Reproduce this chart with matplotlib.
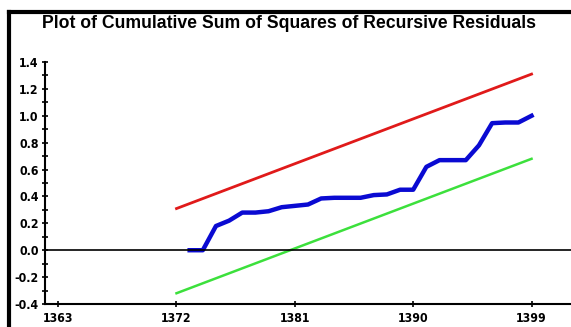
import matplotlib
matplotlib.use("Agg")
import matplotlib.pyplot as plt
from matplotlib.lines import Line2D
from matplotlib.ticker import MultipleLocator

# cumulative sum of squares of recursive residuals, by year
years = [1373, 1374, 1375, 1376, 1377, 1378, 1379, 1380, 1381, 1382,
         1383, 1384, 1385, 1386, 1387, 1388, 1389, 1390, 1391, 1392,
         1393, 1394, 1395, 1396, 1397, 1398, 1399]
cusumsq = [0.0, 0.0, 0.18, 0.22, 0.28, 0.28, 0.29, 0.32, 0.33, 0.34,
           0.385, 0.39, 0.39, 0.39, 0.41, 0.415, 0.45, 0.45, 0.62, 0.67,
           0.67, 0.67, 0.78, 0.945, 0.95, 0.95, 1.0]

# 5% significance bounds (straight lines)
bound_years = [1372, 1399]
upper = [0.31, 1.31]
lower = [-0.32, 0.68]

xticks = [1363, 1372, 1381, 1390, 1399]
yticks = [-0.4, -0.2, 0.0, 0.2, 0.4, 0.6, 0.8, 1.0, 1.2, 1.4]

W, H = 571, 327
fig = plt.figure(figsize=(W / 100, H / 100), dpi=100)
fig.patch.set_facecolor("white")

# thick frame on top and left
fig.add_artist(Line2D([8.5 / W, 1.0], [1 - 11.5 / H, 1 - 11.5 / H],
                      color="black", lw=3.0, solid_capstyle="projecting"))
fig.add_artist(Line2D([8.5 / W, 8.5 / W], [0.0, 1 - 11.5 / H],
                      color="black", lw=3.0, solid_capstyle="projecting"))

fig.text(289 / W, 1 - 24 / H, "Plot of Cumulative Sum of Squares of Recursive Residuals",
         ha="center", va="center", fontsize=12.7, fontweight="bold",
         family="Liberation Sans")

ax = fig.add_axes([45 / W, 23 / H, (W - 45) / W, 242 / H])
ax.plot(bound_years, upper, color="#e01a1a", lw=2.0)
ax.plot(bound_years, lower, color="#3ce03c", lw=1.8)
ax.plot(years, cusumsq, color="#0a0ad2", lw=3.2, solid_joinstyle="round")
ax.axhline(0.0, color="black", lw=1.2)

ax.set_xlim(1362, 1402)
ax.set_ylim(-0.4, 1.4)
ax.set_xticks(xticks)
ax.set_xticklabels([str(t) for t in xticks])
ax.set_yticks(yticks)
ax.set_yticklabels(["%.1f" % t for t in yticks])
ax.yaxis.set_minor_locator(MultipleLocator(0.1))

for s in ["top", "right"]:
    ax.spines[s].set_visible(False)
for s in ["left", "bottom"]:
    ax.spines[s].set_linewidth(1.5)
    ax.spines[s].set_color("black")

ax.tick_params(axis="both", which="both", direction="inout", width=1.2,
               length=5, colors="black")
ax.tick_params(axis="x", pad=3)
ax.tick_params(axis="y", pad=2)
for lab in ax.get_xticklabels() + ax.get_yticklabels():
    lab.set_fontweight("bold")
    lab.set_fontsize(8.8)
    lab.set_family("DejaVu Sans")
    lab.set_fontstretch("condensed")

fig.savefig("out.png", dpi=100)
